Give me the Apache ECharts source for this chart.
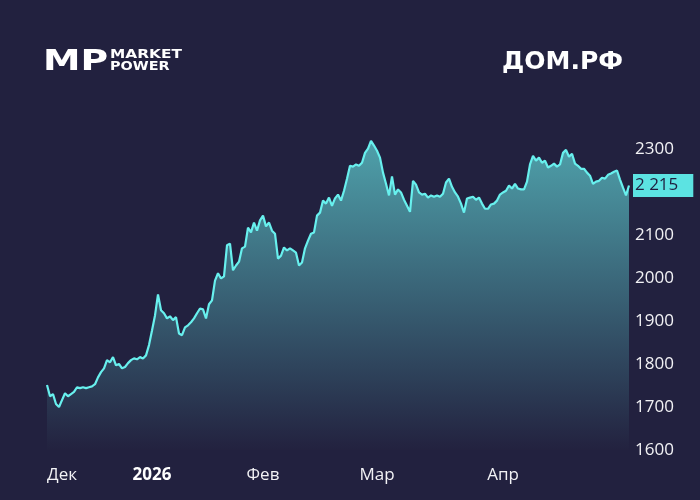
<!DOCTYPE html>
<html>
<head>
<meta charset="utf-8">
<script src="https://cdn.jsdelivr.net/npm/echarts@6/dist/echarts.min.js"></script>
<style>
html,body{margin:0;padding:0;background:#22213f;}
#chart{width:700px;height:500px;}
</style>
</head>
<body>
<div id="chart"></div>
<script>
// Price series (ДОМ.РФ)
const values = [
1751,1725,1730,1707,1700,1716,1732,1725,1730,1735,
1746,1744,1746,1744,1746,1748,1753,1769,1781,1790,
1809,1804,1816,1797,1800,1790,1793,1802,1809,1813,
1811,1816,1813,1820,1844,1878,1913,1962,1925,1918,
1906,1911,1902,1909,1871,1867,1885,1890,1897,1906,
1918,1929,1927,1906,1939,1948,1994,2011,1999,2004,
2076,2080,2018,2029,2038,2069,2073,2117,2106,2129,
2110,2134,2145,2120,2129,2110,2103,2045,2052,2071,
2064,2069,2064,2059,2029,2036,2069,2087,2103,2106,
2145,2152,2180,2173,2187,2168,2185,2194,2180,2203,
2231,2261,2259,2264,2261,2268,2291,2301,2319,2308,
2296,2280,2245,2219,2192,2236,2194,2206,2199,2182,
2168,2154,2226,2217,2199,2194,2196,2187,2192,2189,
2192,2189,2196,2222,2231,2212,2199,2189,2173,2152,
2185,2187,2189,2182,2187,2173,2161,2161,2171,2173,
2180,2194,2199,2203,2215,2208,2219,2208,2206,2206,
2224,2264,2284,2273,2280,2268,2273,2257,2261,2266,
2259,2264,2291,2298,2282,2289,2266,2261,2254,2254,
2245,2238,2219,2224,2226,2233,2231,2240,2243,2247,
2250,2229,2210,2192,2215
];
const categories = values.map((v, i) => String(i));
const monthIdx = [5, 35, 72, 110, 152];
const monthLabels = ['Дек', '2026', 'Фев', 'Мар', 'Апр'];
const boldLabels = ['2026'];
const yMin = 1600, yMax = 2350, yStep = 100;
const lastLabel = '2 215';
const titleText = 'ДОМ.РФ';

const chart = echarts.init(document.getElementById('chart'), null, {renderer: 'canvas'});
const FONT = '"Open Sans", sans-serif';
const option = {
  backgroundColor: '#22213f',
  animation: false,
  title: {
    text: titleText,
    right: 72,
    top: 45,
    textStyle: {color: '#ffffff', fontSize: 25, fontWeight: 'bold', fontFamily: '"DejaVu Sans", sans-serif'}
  },
  graphic: [
    {type: 'text', x: 43, y: 62, scaleX: 1.3,
     style: {text: 'MP', fill: '#ffffff', font: 'bold 29px "DejaVu Sans"', verticalAlign: 'middle'}},
    {type: 'text', x: 110, y: 55, scaleX: 1.28,
     style: {text: 'MARKET', fill: '#ffffff', font: 'bold 12px "DejaVu Sans"', verticalAlign: 'middle'}},
    {type: 'text', x: 110, y: 67, scaleX: 1.2,
     style: {text: 'POWER', fill: '#ffffff', font: 'bold 12px "DejaVu Sans"', verticalAlign: 'middle'}}
  ],
  grid: {left: 47, right: 71, top: 127.5, bottom: 50, containLabel: false},
  xAxis: {
    type: 'category',
    data: categories,
    boundaryGap: false,
    axisLine: {show: false},
    axisTick: {show: false},
    splitLine: {show: false},
    axisLabel: {
      margin: 17,
      color: '#f2f2f5',
      fontSize: 17,
      fontFamily: FONT,
      interval: (idx) => monthIdx.indexOf(idx) >= 0,
      formatter: (val, idx) => {
        const k = monthIdx.indexOf(idx);
        if (k < 0) return '';
        const t = monthLabels[k];
        return boldLabels.indexOf(t) >= 0 ? '{b|' + t + '}' : t;
      },
      rich: {b: {fontWeight: 'bold', fontSize: 17, color: '#ffffff', fontFamily: FONT}}
    }
  },
  yAxis: {
    type: 'value',
    position: 'right',
    min: yMin,
    max: yMax,
    interval: yStep,
    axisLine: {show: false},
    axisTick: {show: false},
    splitLine: {show: false},
    axisLabel: {
      margin: 6,
      color: '#f2f2f5',
      fontSize: 17,
      fontFamily: FONT,
      showMaxLabel: false,
      formatter: (v) => (v % yStep === 0 ? String(v) : '')
    }
  },
  series: [{
    type: 'line',
    data: values,
    symbol: 'none',
    smooth: false,
    clip: false,
    lineStyle: {color: '#68f0ee', width: 2.2},
    areaStyle: {
      origin: 'start',
      color: new echarts.graphic.LinearGradient(0, 0, 0, 1, [
        {offset: 0, color: '#62d8d9'},
        {offset: 1, color: '#23223f'}
      ])
    },
    markLine: {
      silent: true,
      symbol: 'none',
      lineStyle: {color: 'rgba(0,0,0,0)', width: 0, type: 'solid'},
      data: [{yAxis: values[values.length - 1]}],
      label: {
        show: true,
        position: 'end',
        distance: 4,
        opacity: 1,
        formatter: lastLabel,
        color: '#1f1e3f',
        fontSize: 17,
        fontFamily: FONT,
        backgroundColor: '#5ce3e2',
        padding: [3, 15, 3, 2]
      }
    }
  }]
};
chart.setOption(option);
</script>
</body>
</html>
